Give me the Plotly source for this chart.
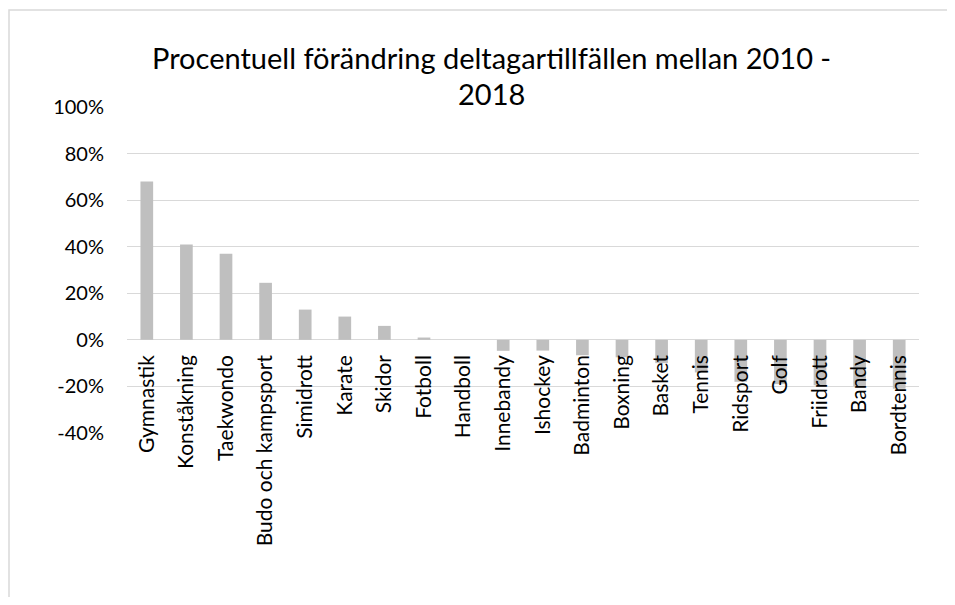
import plotly.graph_objects as go

categories = ["Gymnastik", "Konståkning", "Taekwondo", "Budo och kampsport", "Simidrott",
              "Karate", "Skidor", "Fotboll", "Handboll", "Innebandy", "Ishockey",
              "Badminton", "Boxning", "Basket", "Tennis", "Ridsport", "Golf",
              "Friidrott", "Bandy", "Bordtennis"]
values = [0.68, 0.41, 0.37, 0.245, 0.13, 0.10, 0.06, 0.01, 0.0, -0.047, -0.046,
          -0.066, -0.075, -0.10, -0.14, -0.18, -0.19, -0.195, -0.20, -0.21]
y_ticks = [-0.4, -0.2, 0.0, 0.2, 0.4, 0.6, 0.8, 1.0]
y_ticktext = ["-40%", "-20%", "0%", "20%", "40%", "60%", "80%", "100%"]
title_lines = ["Procentuell förändring deltagartillfällen mellan 2010 -", "2018"]

FONT = "Lato"
OFF = 8  # page body margin
W, H = 955 - 2 * OFF, 605 - 2 * OFF
L = 127 - OFF
T = 107 - OFF
R = W - (919 - OFF)
B = H - (433 - OFF)
pw = W - L - R
ph = H - T - B
zero_pos = (0 - y_ticks[0]) / (y_ticks[-1] - y_ticks[0])


def px_x(sx):
    return (sx - OFF - L) / pw


def px_y(sy):
    return (H - B - (sy - OFF)) / ph


fig = go.Figure(go.Bar(x=categories, y=values, marker_color="#BFBFBF",
                       marker_line_width=0))

fig.update_layout(
    width=W, height=H,
    margin=dict(l=L, r=R, t=T, b=B, autoexpand=False),
    paper_bgcolor="white", plot_bgcolor="white",
    bargap=0.68,
    showlegend=False,
    font=dict(family=FONT, color="#000000", size=20),
    xaxis=dict(
        type="category", anchor="free", position=zero_pos,
        showgrid=False, showline=False, zeroline=False,
        tickangle=-90, tickfont=dict(family=FONT, size=21, color="#000000"),
        ticks="", ticklabelstandoff=10,
    ),
    yaxis=dict(
        range=[y_ticks[0], y_ticks[-1]], tickvals=y_ticks, ticktext=y_ticktext,
        showgrid=True, gridcolor="#D9D9D9", gridwidth=1,
        zeroline=True, zerolinecolor="#D9D9D9", zerolinewidth=1,
        showline=False, ticks="", ticklabelstandoff=22,
        tickfont=dict(family=FONT, size=20, color="#000000"),
    ),
    annotations=[
        dict(text=title_lines[0], xref="paper", yref="paper",
             x=px_x(491), y=px_y(58), xanchor="center", yanchor="middle",
             showarrow=False, font=dict(family=FONT, size=29, color="#000000")),
        dict(text=title_lines[1], xref="paper", yref="paper",
             x=px_x(491), y=px_y(93), xanchor="center", yanchor="middle",
             showarrow=False, font=dict(family=FONT, size=29, color="#000000")),
    ],
    shapes=[dict(type="rect", xref="paper", yref="paper",
                 x0=px_x(9), x1=px_x(1000),
                 y0=px_y(700), y1=px_y(10),
                 line=dict(color="#D9D9D9", width=1.5), fillcolor="rgba(0,0,0,0)",
                 layer="below")],
)

fig.write_html("out.html")
